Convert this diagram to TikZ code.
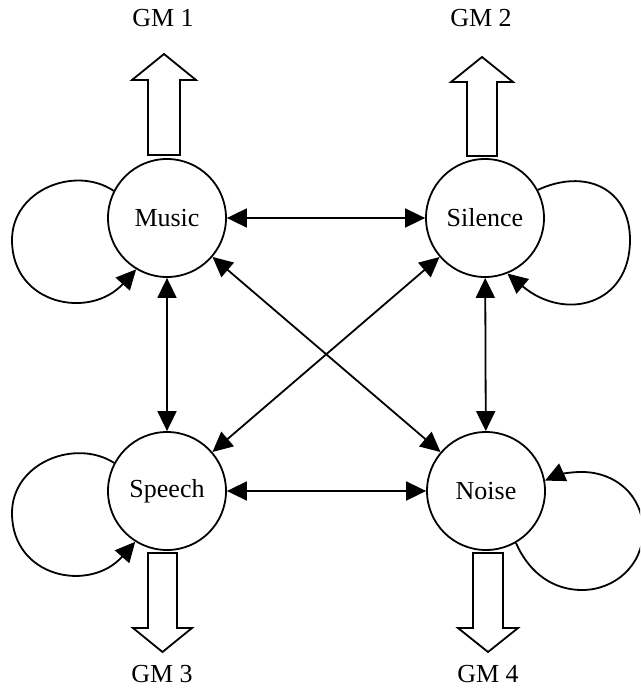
\documentclass[tikz,border=0pt]{standalone}
\usepackage{fontspec}
\setmainfont{Liberation Serif}
\usetikzlibrary{arrows.meta}
\begin{document}
\begin{tikzpicture}[x=1pt,y=-1pt,
  every node/.style={font=\fontsize{26}{30}\selectfont},
  state/.style={circle,draw,line width=1.8pt,minimum size=118pt,inner sep=0pt},
  conn/.style={line width=1.8pt,{Triangle[length=20pt,width=19pt]}-{Triangle[length=20pt,width=19pt]}},
  loopar/.style={line width=1.8pt,-{Triangle[length=20pt,width=19pt]}},
  blockar/.style={draw,line width=1.8pt,fill=white,line join=miter},
  gm/.style={inner sep=0pt}]
\clip (0,0) rectangle (640,690);
\fill[white] (0,0) rectangle (640,690);
\node[state] (M) at (167,218) {Music};
\node[state] (Si) at (485,218) {Silence};
\node[state] (Sp) at (167,491) {Speech};
\node[state] (N) at (486,491) {Noise};
\node[gm] (g1) at (163,18) {GM 1};
\node[gm] (g2) at (481,18) {GM 2};
\node[gm] (g3) at (162,674) {GM 3};
\node[gm] (g4) at (488,674) {GM 4};
% block arrows
\draw[blockar] (148,155) -- (148,80) -- (132,80) -- (164,54) -- (196,80) -- (180,80) -- (180,155) -- cycle;
\draw[blockar] (467,156) -- (467,82) -- (451,82) -- (482,57) -- (513,82) -- (497,82) -- (497,156) -- cycle;
\draw[blockar] (148,553) -- (148,628) -- (133,628) -- (162.5,652) -- (192,628) -- (177,628) -- (177,553) -- cycle;
\draw[blockar] (473,553) -- (473,628) -- (458,628) -- (488,652) -- (518,628) -- (503,628) -- (503,553) -- cycle;
% connectors
\draw[conn] (M) -- (Si);
\draw[conn] (Sp) -- (N);
\draw[conn] (M) -- (Sp);
\draw[conn] (Si) -- (N);
\draw[conn] (M) -- (N);
\draw[conn] (Si) -- (Sp);
% self loops
\draw[loopar] (M.153) .. controls (75,165) and (12,190) .. (12,240) .. controls (12,305) and (90,320) .. (M.239);
\draw[loopar] (Sp.152) .. controls (75,438) and (12,463) .. (12,513) .. controls (12,578) and (90,593) .. (Sp.238);
\draw[loopar] (Si.28) .. controls (585,168) and (630,188) .. (630,240) .. controls (630,305) and (565,322) .. (Si.-68);
\draw[loopar] (N.-60) .. controls (530,575) and (555,590) .. (582,590) .. controls (615,590) and (643,565) .. (643,531) .. controls (643,495) and (615,472) .. (582,472) .. controls (565,472) and (555,476) .. (N.10);
\end{tikzpicture}
\end{document}
